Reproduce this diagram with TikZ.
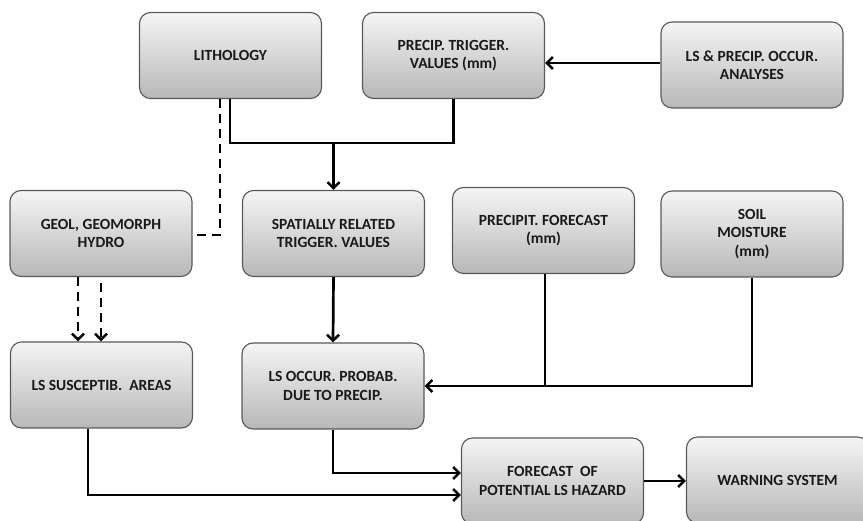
\documentclass[tikz,border=0pt]{standalone}
\usepackage{fontspec}
\setmainfont{Carlito}
\usetikzlibrary{arrows.meta,calc}
\tikzset{
  box_n/.style = {rectangle, rounded corners=11pt, draw=black!65, line width=1.1pt, top color=black!4, bottom color=black!28, minimum width=182pt, minimum height=86pt, align=center, inner sep=2pt, text=black!90, font=\fontsize{15.5}{18.5}\selectfont\bfseries},
  line_s/.style = {line width=2.7pt, black},
  arr_s/.style = {line_s, -{Straight Barb[length=6pt,width=12pt,line width=2.5pt]}},
  dash_s/.style = {line_s, dash pattern=on 9pt off 6pt},
  darr_s/.style = {dash_s, -{Straight Barb[length=6pt,width=12pt,line width=2.5pt]}}
}
\begin{document}
\begin{tikzpicture}[x=1pt,y=-1pt]
	\useasboundingbox (0,0) rectangle (863,521);
	\clip (0,0) rectangle (863,521);
	\node [box_n] (litho) at (230.5,55.5) {LITHOLOGY};
	\node [box_n] (trig) at (453.5,55.5) {PRECIP. TRIGGER.\\VALUES (mm)};
	\node [box_n] (anal) at (752,65) {LS \& PRECIP. OCCUR.\\ANALYSES};
	\node [box_n] (geol) at (101,233.5) {GEOL, GEOMORPH\\HYDRO};
	\node [box_n] (spat) at (333.5,233.5) {SPATIALLY RELATED\\TRIGGER. VALUES};
	\node [box_n] (fcst) at (543.5,230.5) {PRECIPIT. FORECAST\\(mm)};
	\node [box_n] (soil) at (752,234) {SOIL\\MOISTURE\\(mm)};
	\node [box_n] (susc) at (101.5,385) {LS SUSCEPTIB.\ \ AREAS};
	\node [box_n] (occur) at (333,386) {LS OCCUR. PROBAB.\\DUE TO PRECIP.};
	\node [box_n] (hazard) at (552.5,481) {FORECAST\ \ OF\\POTENTIAL LS HAZARD};
	\node [box_n] (warn) at (777.5,480) {WARNING SYSTEM};
	\coordinate (join) at (333.5,143);
	\draw [arr_s] ([yshift=2pt]anal.west) -- ([yshift=2pt]anal.west -| trig.east);
	\draw [line_s] ([xshift=-0.5pt]litho.south) |- (trig.south |- join) -- (trig.south);
	\draw [arr_s] (join) -- (spat.north);
	\draw [dash_s] ([xshift=-10.5pt]litho.south) |- ([xshift=4pt,yshift=-1.5pt]geol.east);
	\draw [darr_s] ([xshift=-23pt]geol.south) -- ([xshift=-23pt]geol.south |- susc.north);
	\draw [darr_s] ([yshift=-6pt]geol.south) -- (geol.south |- susc.north);
	\draw [arr_s] (spat.south) -- (occur.north);
	\draw [line_s] ([xshift=1.5pt]fcst.south) -- ([xshift=1.5pt]fcst.south |- occur.east);
	\draw [arr_s] (soil.south) |- (occur.east);
	\draw [arr_s] (occur.south) |- ([yshift=8pt]hazard.west);
	\draw [arr_s] ([xshift=-13.5pt]susc.south) |- ([yshift=-14pt]hazard.west);
	\draw [arr_s] (hazard.east) -- (hazard.east -| warn.west);
\end{tikzpicture}
\end{document}
